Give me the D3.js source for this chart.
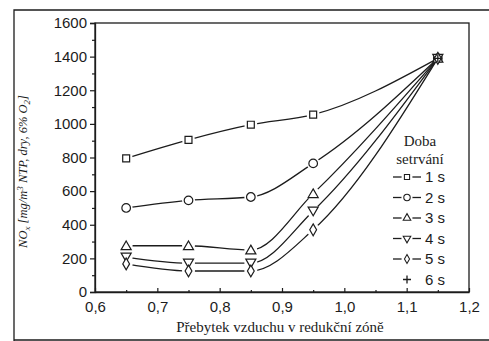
<!DOCTYPE html>
<html>
<head>
<meta charset="utf-8">
<script src="https://cdn.jsdelivr.net/npm/d3@7"></script>
<style>
  body { margin: 0; background: #fff; }
  svg { display: block; }
</style>
</head>
<body>
<svg id="chart" width="489" height="341"></svg>
<script>
// data
const xValues = [0.65, 0.75, 0.85, 0.95, 1.15];
const series1s = [795, 905, 995, 1055, 1390];
const series2s = [500, 545, 565, 765, 1390];
const series3s = [275, 275, 250, 585, 1390];
const series4s = [208, 172, 172, 482, 1390];
const series5s = [167, 125, 125, 370, 1390];
const series6s = [[1.15, 1390]];
const seriesNames = ["1 s", "2 s", "3 s", "4 s", "5 s", "6 s"];
const xTicks = [0.6, 0.7, 0.8, 0.9, 1.0, 1.1, 1.2];
const yTicks = [0, 200, 400, 600, 800, 1000, 1200, 1400, 1600];

const svg = d3.select("#chart");
const margin = {left: 95, right: 20, top: 23, bottom: 49};
const W = 489, H = 341;

let x = d3.scaleLinear().domain([0.6, 1.2]).range([margin.left, W - margin.right]);
let y = d3.scaleLinear().domain([0, 1600]).range([H - margin.bottom, margin.top]);
const ink = "#1c1c1c";

// outer frame
svg.append("path")
    .attr("d", `M14,341 L14,10 L489,10 M14,340 L489,340`)
    .style("fill", "none").style("stroke", ink).style("stroke-width", 1.3);

// plot frame
svg.append("rect")
    .attr("x", x(0.6)).attr("y", y(1600))
    .attr("width", x(1.2) - x(0.6)).attr("height", y(0) - y(1600))
    .style("fill", "none").style("stroke", ink).style("stroke-width", 1.3);

// Y axis
svg.append("g")
    .attr("transform", `translate(${x(0.6)},0)`)
    .call(d3.axisLeft(y).tickValues(yTicks).tickSize(5).tickPadding(3).tickFormat(d3.format("d")));
svg.append("g")
    .attr("transform", `translate(${x(0.6)},0)`)
    .call(d3.axisLeft(y).tickValues(d3.range(100, 1600, 200)).tickSize(3).tickFormat(""))
    .select(".domain").remove();

// X axis (ticks point inward)
let xAxis = svg.append("g")
    .attr("transform", `translate(0,${y(0)})`)
    .call(d3.axisBottom(x).tickValues(xTicks).tickSizeInner(-4).tickSizeOuter(0).tickPadding(6)
        .tickFormat(d => d3.format(".1f")(d).replace(".", ",")));
svg.append("g")
    .attr("transform", `translate(0,${y(0)})`)
    .call(d3.axisBottom(x).tickValues(d3.range(0.65, 1.2, 0.1)).tickSizeInner(-2).tickSizeOuter(0).tickFormat(""))
    .select(".domain").remove();

svg.selectAll(".domain").style("stroke", ink).style("stroke-width", 1.3);
svg.selectAll(".tick line").style("stroke", ink).style("stroke-width", 1.2);
svg.selectAll(".tick text")
    .style("font-family", "'Liberation Sans', Arial, sans-serif")
    .style("font-size", "15px").style("fill", ink);
xAxis.selectAll(".tick text").attr("dy", "0.9em");

// axis titles
svg.append("text")
    .attr("x", (x(0.6) + x(1.2)) / 2 - 2).attr("y", 332)
    .attr("text-anchor", "middle")
    .style("font-family", "'Liberation Serif', 'Times New Roman', serif")
    .style("font-size", "15px").style("fill", ink)
    .text("Přebytek vzduchu v redukční zóně");

let yTitle = svg.append("text")
    .attr("transform", `translate(27,${(y(0) + y(1600)) / 2 + 14}) rotate(-90)`)
    .attr("text-anchor", "middle")
    .style("font-family", "'Liberation Serif', 'Times New Roman', serif")
    .style("font-style", "italic")
    .style("font-size", "12.5px").style("fill", ink);
yTitle.append("tspan").text("NO");
yTitle.append("tspan").attr("dy", 3).style("font-size", "9px").text("x");
yTitle.append("tspan").attr("dy", -3).text(" [mg/m");
yTitle.append("tspan").attr("dy", -4).style("font-size", "9px").text("3");
yTitle.append("tspan").attr("dy", 4).text(" NTP, dry, 6% O");
yTitle.append("tspan").attr("dy", 3).style("font-size", "9px").text("2");
yTitle.append("tspan").attr("dy", -3).text("]");

// markers
const symbolFor = [
    d3.symbol().type(d3.symbolSquare).size(48),
    d3.symbol().type(d3.symbolCircle).size(58),
    d3.symbol().type(d3.symbolTriangle).size(44),
    d3.symbol().type(d3.symbolTriangle).size(44),
    d3.symbol().type(d3.symbolDiamond).size(40)
];
const rotateFor = [0, 0, 0, 180, 0];
const plusPath = "M-4,0 L4,0 M0,-4 L0,4";

let allSeries = [series1s, series2s, series3s, series4s, series5s];
let line = d3.line()
    .x(d => x(d[0])).y(d => y(d[1]))
    .curve(d3.curveMonotoneX);

let curves = svg.append("g");
let marks = svg.append("g");

allSeries.forEach((vals, i) => {
    let pts = xValues.map((xv, j) => [xv, vals[j]]);
    curves.append("path")
        .datum(pts)
        .attr("d", line)
        .style("fill", "none").style("stroke", ink).style("stroke-width", 1.3);
    // white halo so lines stop short of the markers
    marks.selectAll(null).data(pts.slice(0, 4)).enter().append("circle")
        .attr("cx", d => x(d[0])).attr("cy", d => y(d[1])).attr("r", 6.5)
        .style("fill", "#fff");
});
allSeries.forEach((vals, i) => {
    let pts = xValues.map((xv, j) => [xv, vals[j]]);
    marks.selectAll(null).data(pts).enter().append("path")
        .attr("d", symbolFor[i])
        .attr("transform", d => `translate(${x(d[0])},${y(d[1]) + (i === 2 ? 1 : i === 3 ? -1 : 0)}) rotate(${rotateFor[i]})`)
        .style("fill", "#fff").style("stroke", ink).style("stroke-width", 1.2);
});
marks.selectAll(null).data(series6s).enter().append("path")
    .attr("d", plusPath)
    .attr("transform", d => `translate(${x(d[0])},${y(d[1])})`)
    .style("stroke", ink).style("stroke-width", 1.3);

// legend
let legend = svg.append("g");
const serif = "'Liberation Serif', 'Times New Roman', serif";
legend.append("text").attr("x", 420).attr("y", 146).attr("text-anchor", "middle")
    .style("font-family", serif).style("font-size", "15px").style("fill", ink).text("Doba");
legend.append("text").attr("x", 420).attr("y", 164).attr("text-anchor", "middle")
    .style("font-family", serif).style("font-size", "15px").style("fill", ink).text("setrvání");

seriesNames.forEach((name, i) => {
    let ly = 177 + i * 20.5;
    let row = legend.append("g");
    if (i < 5) {
        row.append("line").attr("x1", 393).attr("x2", 421).attr("y1", ly).attr("y2", ly)
            .style("stroke", ink).style("stroke-width", 1.3);
        row.append("circle").attr("cx", 407).attr("cy", ly).attr("r", 5.5).style("fill", "#fff");
        row.append("path")
            .attr("d", symbolFor[i])
            .attr("transform", `translate(407,${ly}) rotate(${rotateFor[i]}) scale(0.75)`)
            .style("fill", "#fff").style("stroke", ink).style("stroke-width", 1.4);
    } else {
        row.append("path")
            .attr("d", plusPath)
            .attr("transform", `translate(407,${ly})`)
            .style("stroke", ink).style("stroke-width", 1.3);
    }
    row.append("text").attr("x", 425).attr("y", ly + 5)
        .style("font-family", "'Liberation Sans', Arial, sans-serif")
        .style("font-size", "15px").style("fill", ink)
        .text(name);
});
</script>
</body>
</html>
